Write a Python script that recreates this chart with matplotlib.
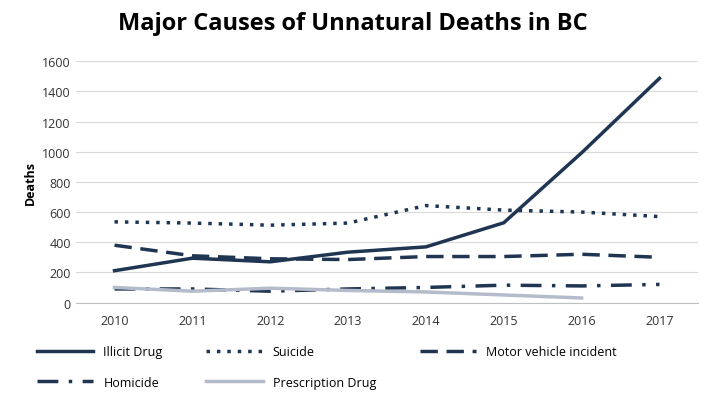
import matplotlib
matplotlib.use("Agg")
import matplotlib.pyplot as plt

years = [2010, 2011, 2012, 2013, 2014, 2015, 2016, 2017]
illicit = [211, 294, 270, 334, 369, 529, 993, 1487]
suicide = [535, 527, 513, 527, 643, 613, 600, 570]
motor = [380, 310, 290, 285, 305, 305, 320, 300]
homicide = [90, 90, 75, 90, 100, 115, 110, 120]
presc_years = [2010, 2011, 2012, 2013, 2014, 2015, 2016]
presc = [100, 75, 95, 80, 70, 50, 30]

navy = "#1f3552"
plt.rcParams['font.family'] = ['Open Sans', 'DejaVu Sans']
fig = plt.figure(figsize=(7.2, 4.02), dpi=100)
ax = fig.add_axes([0.105, 0.245, 0.865, 0.6])
h1, = ax.plot(years, illicit, color=navy, lw=2.5, label="Illicit Drug")
h2, = ax.plot(years, suicide, color=navy, lw=2.5, ls=(0, (1, 2)), label="Suicide")
h3, = ax.plot(years, motor, color=navy, lw=2.5, ls=(0, (5, 2.5)), label="Motor vehicle incident")
h4, = ax.plot(years, homicide, color=navy, lw=2.5, ls=(0, (6, 3, 1, 3)), label="Homicide")
h5, = ax.plot(presc_years, presc, color="#b4bccb", lw=2.5, label="Prescription Drug")

ax.set_xlim(2009.5, 2017.5)
ax.set_ylim(0, 1600)
ax.set_yticks(range(0, 1601, 200))
ax.set_xticks(years)
ax.grid(axis='y', color='#d9d9d9', lw=0.8)
ax.set_axisbelow(True)
for s in ['top', 'right', 'left']:
    ax.spines[s].set_visible(False)
ax.spines['bottom'].set_color('#bfbfbf')
ax.tick_params(axis='both', length=0, labelsize=9, colors='#333333')
ax.tick_params(axis='x', pad=8)
ax.set_ylabel("Deaths", fontsize=9, fontweight='bold')
fig.suptitle("Major Causes of Unnatural Deaths in BC", fontsize=17, fontweight='bold', x=0.49, y=0.97)
handles = [h1, h4, h2, h5, h3]
ax.legend(handles, [h.get_label() for h in handles], loc='upper left',
          bbox_to_anchor=(-0.08, -0.13), ncol=3, frameon=False,
          fontsize=9, handlelength=4.5, columnspacing=3.5, labelspacing=1.4)
fig.savefig("out.png")
